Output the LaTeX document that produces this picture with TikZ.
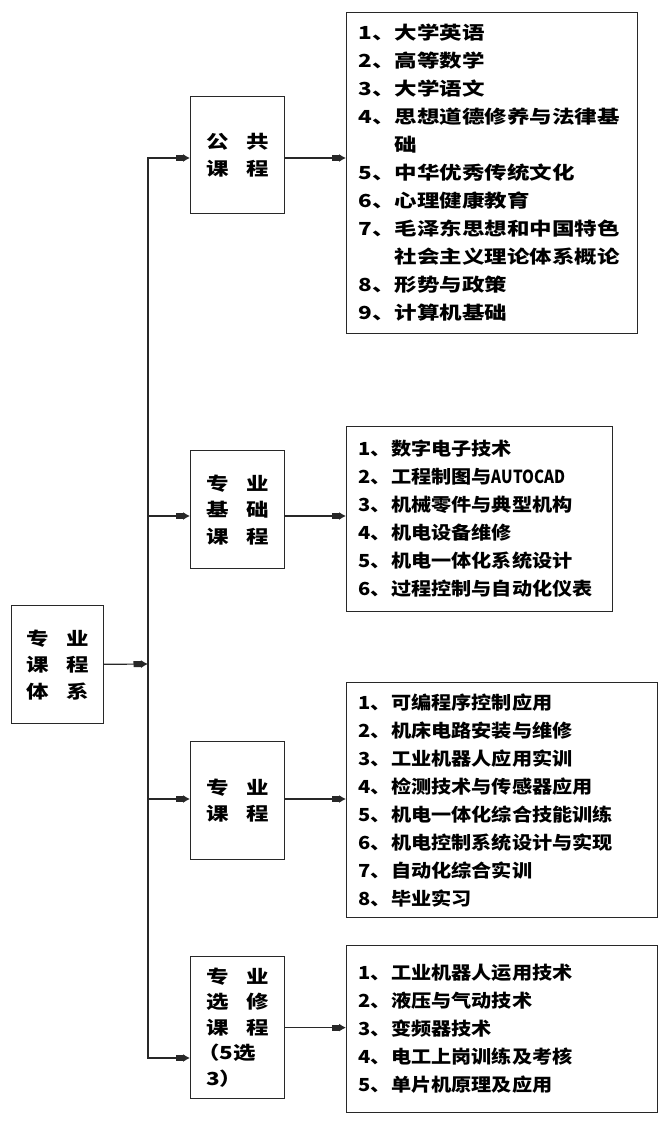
\documentclass[tikz,border=0pt]{standalone}
\usepackage{fontspec}
\setmainfont{Noto Sans CJK SC}[FakeStretch=1.25]
\newfontfamily\narrowfont{Noto Sans CJK SC}[FakeStretch=1.12]
\usetikzlibrary{arrows.meta}
\definecolor{LineGray}{RGB}{40,40,40}

\begin{document}
\begin{tikzpicture}[x=1pt,y=-1pt,
  >={Rectangle[length=8pt,width=6pt,sep=-0.5pt]Latex[length=7pt,width=8pt]},
  catbox/.style={draw=LineGray,line width=1.2pt,anchor=north west,minimum width=94pt,
    inner sep=0pt,align=left,font=\fontsize{18}{26.5}\selectfont\bfseries},
  listbox/.style={draw=LineGray,line width=1.2pt,anchor=north west,inner xsep=12pt,
    inner ysep=0pt,align=left,font=\fontsize{18}{28}\selectfont\bfseries},
  narrowbox/.style={listbox,font=\narrowfont\fontsize{18}{28}\selectfont\bfseries},
  link/.style={LineGray,line width=1.2pt}]
  \useasboundingbox (0,0) rectangle (671,1122);
  % left: the whole system
  \node[catbox,minimum width=92pt,minimum height=118pt] (root) at (11,605)
    {专\hspace{18pt}业\\课\hspace{18pt}程\\体\hspace{18pt}系};
  % middle column
  \node[catbox,minimum height=117pt] (pub) at (190,96) {公\hspace{18pt}共\\课\hspace{18pt}程};
  \node[catbox,minimum height=118pt] (base) at (190,450)
    {专\hspace{18pt}业\\基\hspace{18pt}础\\课\hspace{18pt}程};
  \node[catbox,minimum height=118pt] (major) at (190,741) {专\hspace{18pt}业\\课\hspace{18pt}程};
  \node[catbox,minimum height=142pt,font=\fontsize{18}{25.5}\selectfont\bfseries] (elec) at (190,956)
    {专\hspace{18pt}业\\选\hspace{18pt}修\\课\hspace{18pt}程\\\hspace*{-9pt}（5选\\3）};
  % right column
  \node[listbox,text width=267pt,minimum height=321pt] (pubList) at (346,12)
    {1、大学英语\\2、高等数学\\3、大学语文\\4、思想道德修养与法律基\\\phantom{4、}础\\
     5、中华优秀传统文化\\6、心理健康教育\\7、毛泽东思想和中国特色\\\phantom{7、}社会主义理论体系概论\\
     8、形势与政策\\9、计算机基础};
  \node[narrowbox,text width=242pt,minimum height=185pt] (baseList) at (346,426)
    {1、数字电子技术\\2、工程制图与\scalebox{0.75}[1]{AUTOCAD}\\3、机械零件与典型机构\\4、机电设备维修\\
     5、机电一体化系统设计\\6、过程控制与自动化仪表};
  \node[narrowbox,text width=287pt,minimum height=235pt] (majorList) at (346,682)
    {1、可编程序控制应用\\2、机床电路安装与维修\\3、工业机器人应用实训\\4、检测技术与传感器应用\\
     5、机电一体化综合技能训练\\6、机电控制系统设计与实现\\7、自动化综合实训\\8、毕业实习};
  \node[narrowbox,text width=287pt,minimum height=167pt] (elecList) at (346,945)
    {1、工业机器人运用技术\\2、液压与气动技术\\3、变频器技术\\4、电工上岗训练及考核\\5、单片机原理及应用};
  % trunk
  \coordinate (tA) at (148,158);
  \coordinate (tB) at (148,516);
  \coordinate (tR) at (148,664);
  \coordinate (tC) at (148,799);
  \coordinate (tD) at (148,1058);
  \draw[link,line cap=rect] (tA) -- (tD);
  \draw[link,->] (root) -- (tR);
  \draw[link,->] (tA) -- (tA -| pub.west);
  \draw[link,->] (tB) -- (tB -| base.west);
  \draw[link,->] (tC) -- (tC -| major.west);
  \draw[link,->] (tD) -- (tD -| elec.west);
  \draw[link,->] (pub.east |- tA) -- (tA -| pubList.west);
  \draw[link,->] (base.east |- tB) -- (tB -| baseList.west);
  \draw[link,->] (major.east |- tC) -- (tC -| majorList.west);
  \draw[link,->] (elec.east) -- (elec.east -| elecList.west);
\end{tikzpicture}
\end{document}
